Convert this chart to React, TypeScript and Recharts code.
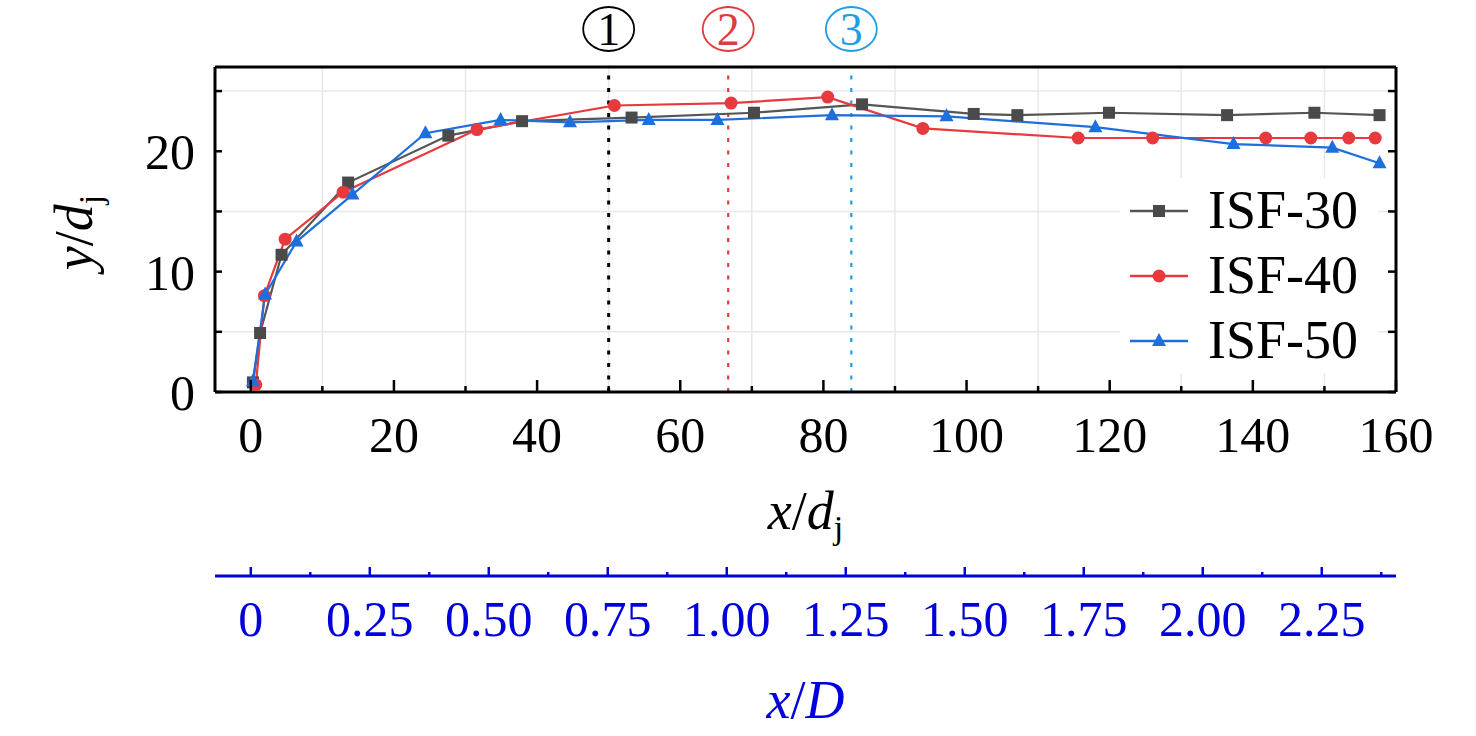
import React from "react";
import { LineChart, Line, XAxis, YAxis, ReferenceLine, Legend } from "recharts";

// x/d_j and y/d_j
const isf30X = [0.3, 1.3, 4.3, 13.6, 27.6, 37.9, 53.2, 70.3, 85.4, 101.0, 107.1, 119.9, 136.4, 148.6, 157.7];
const isf30Y = [0.8, 4.9, 11.4, 17.4, 21.3, 22.5, 22.8, 23.2, 23.9, 23.1, 23.0, 23.2, 23.0, 23.2, 23.0];
const isf40X = [0.7, 1.9, 4.8, 12.9, 31.6, 50.8, 67.1, 80.6, 93.9, 115.6, 126.0, 141.8, 148.1, 153.4, 157.1];
const isf40Y = [0.6, 8.0, 12.7, 16.6, 21.8, 23.8, 24.0, 24.5, 21.9, 21.1, 21.1, 21.1, 21.1, 21.1, 21.1];
const isf50X = [0.3, 2.0, 6.4, 14.2, 24.4, 34.9, 44.6, 55.6, 65.2, 81.2, 97.2, 118.0, 137.3, 151.1, 157.7];
const isf50Y = [0.9, 8.1, 12.5, 16.4, 21.5, 22.6, 22.4, 22.6, 22.6, 23.0, 22.9, 22.0, 20.6, 20.3, 19.0];

const seriesNames = ["ISF-30", "ISF-40", "ISF-50"];
const seriesColors = ["#555555", "#e8393f", "#1d6fdd"];
const seriesShapes = ["square", "circle", "triangle"];

const xTicks = [0, 10, 20, 30, 40, 50, 60, 70, 80, 90, 100, 110, 120, 130, 140, 150, 160];
const yTicks = [0, 5, 10, 15, 20, 25];
const gridX = [10, 30, 50, 70, 90, 110, 130, 150];
const gridY = [5, 15, 25];

// secondary axis x/D, D = 66.5 d_j
const D_RATIO = 66.5;
const dTicks = [0, 0.125, 0.25, 0.375, 0.5, 0.625, 0.75, 0.875, 1, 1.125, 1.25, 1.375, 1.5, 1.625, 1.75, 1.875, 2, 2.125, 2.25, 2.375];

// marked stations 1, 2, 3
const markX = [50, 66.7, 83.9];
const markLabels = ["1", "2", "3"];
const markColors = ["#000000", "#e23b3f", "#1f9de6"];

const SERIF = "'Liberation Serif', 'Times New Roman', serif";
const AXIS_BLUE = "#0000dd";

const toPoints = (xs: number[], ys: number[], k = 1) => xs.map((x, i) => ({ x: x / k, y: ys[i] }));
const seriesData = [toPoints(isf30X, isf30Y), toPoints(isf40X, isf40Y), toPoints(isf50X, isf50Y)];
// same ISF-30 points in x/D units, only to give the x/D axis a scale
const isf30InD = toPoints(isf30X, isf30Y, D_RATIO);

function marker(shape: string, cx: number, cy: number, color: string, key?: any) {
  if (shape === "square") return <rect key={key} x={cx - 6} y={cy - 6} width={12} height={12} fill="#4a4a4a" />;
  if (shape === "circle") return <circle key={key} cx={cx} cy={cy} r={6.5} fill={color} />;
  return <polygon key={key} points={`${cx},${cy - 8} ${cx - 7},${cy + 5} ${cx + 7},${cy + 5}`} fill={color} />;
}

function BottomTick({ x, y, payload }: any) {
  const v = payload.value;
  const major = v % 20 === 0;
  return (
    <g>
      <line x1={x} x2={x} y1={y} y2={y - (major ? 12 : 6)} stroke="#000" strokeWidth={2.5} />
      {major && (
        <text x={x} y={y + 60} textAnchor="middle" fontSize={50} fontFamily={SERIF} fill="#000">
          {v}
        </text>
      )}
    </g>
  );
}

function TopTick({ x, y }: any) {
  return <line x1={x} x2={x} y1={y} y2={y + 11} stroke="#000" strokeWidth={2.5} />;
}

function LeftTick({ x, y, payload }: any) {
  const v = payload.value;
  return (
    <g>
      <line x1={x} x2={x + 7} y1={y} y2={y} stroke="#000" strokeWidth={2.5} />
      {v % 10 === 0 && (
        <text x={x - 20} y={y + 18} textAnchor="end" fontSize={50} fontFamily={SERIF} fill="#000">
          {v}
        </text>
      )}
    </g>
  );
}

function RightTick({ x, y }: any) {
  return <line x1={x} x2={x - 8} y1={y} y2={y} stroke="#000" strokeWidth={2.5} />;
}

function DTick({ x, y, payload }: any) {
  const v = payload.value;
  const major = Math.abs(v / 0.25 - Math.round(v / 0.25)) < 1e-6;
  return (
    <g>
      <line x1={x} x2={x} y1={y} y2={y - (major ? 9 : 4)} stroke={AXIS_BLUE} strokeWidth={2.5} />
      {major && (
        <text x={x} y={y + 60} textAnchor="middle" fontSize={50} fontFamily={SERIF} fill={AXIS_BLUE}>
          {v === 0 ? "0" : v.toFixed(2)}
        </text>
      )}
    </g>
  );
}

function XLabel(props: any) {
  const vb = props.viewBox || {};
  return (
    <text x={vb.x + vb.width / 2} y={vb.y + 137} textAnchor="middle" fontSize={54} fontFamily={SERIF} fill="#000">
      <tspan fontStyle="italic">x</tspan>
      <tspan>/</tspan>
      <tspan fontStyle="italic">d</tspan>
      <tspan fontSize={34} dy={10}>j</tspan>
    </text>
  );
}

function DLabel(props: any) {
  const vb = props.viewBox || {};
  return (
    <text x={vb.x + vb.width / 2} y={vb.y + 142} textAnchor="middle" fontSize={54} fontFamily={SERIF} fill={AXIS_BLUE}>
      <tspan fontStyle="italic">x</tspan>
      <tspan>/</tspan>
      <tspan fontStyle="italic">D</tspan>
    </text>
  );
}

function YLabel(props: any) {
  const vb = props.viewBox || {};
  const cx = 92;
  const cy = vb.y + vb.height / 2 + 3;
  return (
    <text x={cx} y={cy} transform={`rotate(-90, ${cx}, ${cy})`} textAnchor="middle" fontSize={54} fontFamily={SERIF} fill="#000">
      <tspan fontStyle="italic">y</tspan>
      <tspan>/</tspan>
      <tspan fontStyle="italic">d</tspan>
      <tspan fontSize={34} dy={10}>j</tspan>
    </text>
  );
}

function circleMark(n: string, color: string) {
  return (props: any) => {
    const vb = props.viewBox || {};
    const cx = vb.x;
    const cy = vb.y - 38;
    return (
      <g>
        <ellipse cx={cx} cy={cy} rx={25.5} ry={22} fill="none" stroke={color} strokeWidth={1.8} />
        <text x={cx} y={cy + 16} textAnchor="middle" fontSize={46} fontFamily={SERIF} fill={color}>
          {n}
        </text>
      </g>
    );
  };
}

function LegendBox() {
  return (
    <div style={{ background: "#fff", padding: "0 0 0 10px" }}>
      {seriesNames.map((name, i) => (
        <div key={name} style={{ display: "flex", alignItems: "center", height: 65 }}>
          <svg width={62} height={20} style={{ overflow: "visible" }}>
            <line x1={0} x2={58} y1={10} y2={10} stroke={seriesColors[i]} strokeWidth={2.5} />
            {marker(seriesShapes[i], 29, 10, seriesColors[i])}
          </svg>
          <span style={{ fontFamily: SERIF, fontSize: 54, marginLeft: 16, lineHeight: "65px", color: "#000" }}>{name}</span>
        </div>
      ))}
    </div>
  );
}

export default function App() {
  return (
    <div style={{ position: "absolute", left: 0, top: 0, background: "#fff" }}>
      <LineChart width={1476} height={736} margin={{ top: 0, right: 70, bottom: 0, left: 0 }}>
        <XAxis
          type="number"
          dataKey="x"
          domain={[-5, 160]}
          ticks={xTicks}
          interval={0}
          allowDataOverflow
          height={184}
          tickSize={0}
          tickMargin={0}
          tickLine={false}
          tick={<BottomTick />}
          axisLine={{ stroke: "#000", strokeWidth: 3 }}
          label={<XLabel />}
        />
        <XAxis
          xAxisId="D"
          type="number"
          dataKey="x"
          domain={[-5 / D_RATIO, 160 / D_RATIO]}
          ticks={dTicks}
          interval={0}
          allowDataOverflow
          height={160}
          tickSize={0}
          tickMargin={0}
          tickLine={false}
          tick={<DTick />}
          axisLine={{ stroke: AXIS_BLUE, strokeWidth: 3 }}
          label={<DLabel />}
        />
        <XAxis
          xAxisId="top"
          orientation="top"
          type="number"
          domain={[-5, 160]}
          ticks={xTicks}
          interval={0}
          allowDataOverflow
          height={67}
          tickSize={0}
          tickMargin={0}
          tickLine={false}
          tick={<TopTick />}
          axisLine={{ stroke: "#000", strokeWidth: 3 }}
        />
        <YAxis
          type="number"
          domain={[0, 27]}
          ticks={yTicks}
          interval={0}
          allowDataOverflow
          width={215}
          tickSize={0}
          tickMargin={0}
          tickLine={false}
          tick={<LeftTick />}
          axisLine={{ stroke: "#000", strokeWidth: 3 }}
          label={<YLabel />}
        />
        <YAxis
          yAxisId="right"
          orientation="right"
          type="number"
          domain={[0, 27]}
          ticks={yTicks}
          interval={0}
          allowDataOverflow
          width={10}
          tickSize={0}
          tickMargin={0}
          tickLine={false}
          tick={<RightTick />}
          axisLine={{ stroke: "#000", strokeWidth: 3 }}
        />
        {gridX.map((g) => (
          <ReferenceLine key={"gx" + g} x={g} stroke="#e8e8e8" strokeWidth={1.5} />
        ))}
        {gridY.map((g) => (
          <ReferenceLine key={"gy" + g} y={g} stroke="#e8e8e8" strokeWidth={1.5} />
        ))}
        {markX.map((m, i) => (
          <ReferenceLine
            key={"m" + i}
            x={m}
            stroke={markColors[i]}
            strokeWidth={i === 0 ? 3 : 2.2}
            strokeDasharray="4 8.5"
            label={circleMark(markLabels[i], markColors[i])}
          />
        ))}
        <Line
          xAxisId="D"
          data={isf30InD}
          dataKey="y"
          stroke="none"
          dot={false}
          activeDot={false}
          legendType="none"
          isAnimationActive={false}
        />
        {seriesData.map((d, i) => (
          <Line
            key={seriesNames[i]}
            data={d}
            dataKey="y"
            name={seriesNames[i]}
            type="linear"
            stroke={seriesColors[i]}
            strokeWidth={2.2}
            dot={(p: any) => marker(seriesShapes[i], p.cx, p.cy, seriesColors[i], p.index)}
            activeDot={false}
            isAnimationActive={false}
          />
        ))}
        <Legend
          layout="horizontal"
          verticalAlign="middle"
          align="center"
          content={() => <LegendBox />}
          wrapperStyle={{ left: 1120, top: 178, width: 258, height: 195 }}
        />
      </LineChart>
    </div>
  );
}
